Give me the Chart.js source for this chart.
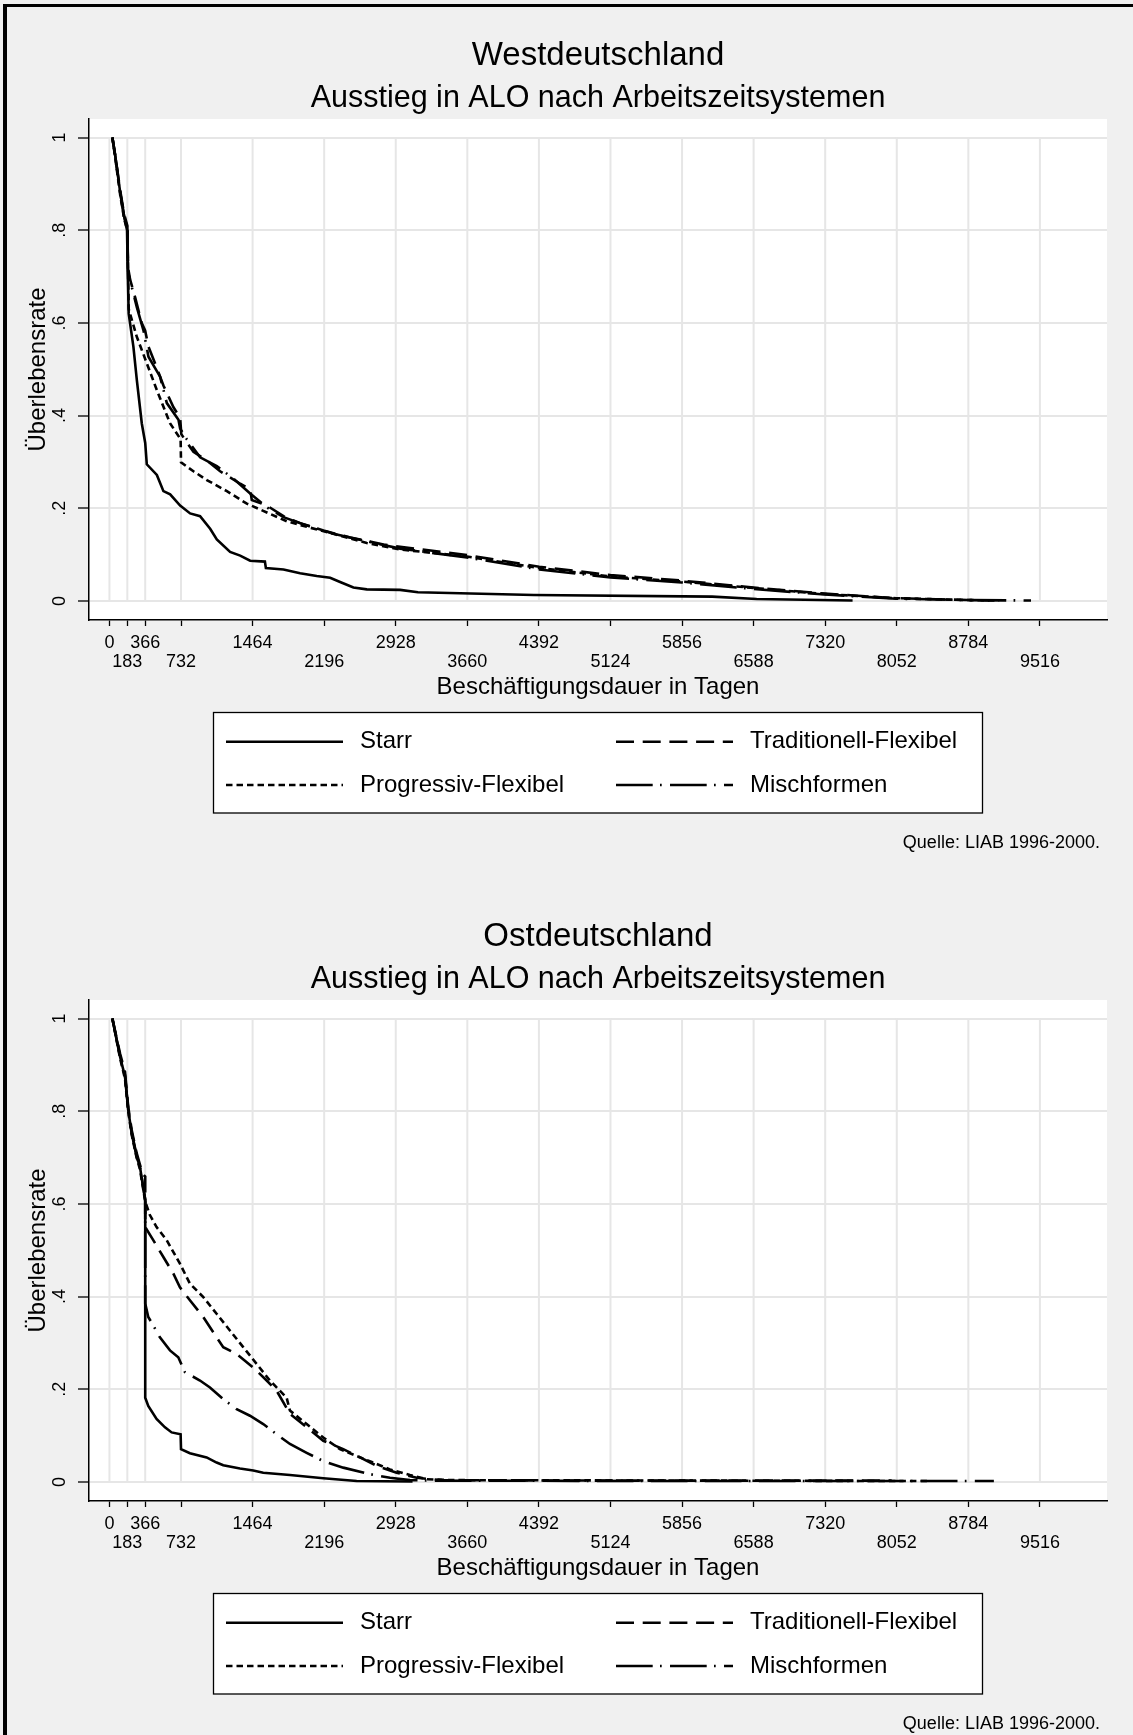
<!DOCTYPE html>
<html><head><meta charset="utf-8">
<script src="https://cdn.jsdelivr.net/npm/chart.js@4.4.1/dist/chart.umd.min.js"></script>
<style>
html,body{margin:0;padding:0;background:#f0f0f0;width:1133px;height:1735px;overflow:hidden;}
#frame{position:absolute;left:3px;top:4px;width:1130px;height:1731px;border-left:4px solid #000;border-top:3px solid #000;box-sizing:border-box;pointer-events:none;z-index:5}
canvas{position:absolute;left:0}
#c1{top:0}
#c2{top:881px}
</style></head><body>
<canvas id="c1" width="1133" height="881"></canvas>
<canvas id="c2" width="1133" height="881"></canvas>
<div id="frame"></div>
<script>
// ---- tick values / labels ----
const xTickValues = [0,183,366,732,1464,2196,2928,3660,4392,5124,5856,6588,7320,8052,8784,9516];
const xTickLabels = ['0','183','366','732','1464','2196','2928','3660','4392','5124','5856','6588','7320','8052','8784','9516'];
const yTickValues = [0,0.2,0.4,0.6,0.8,1];
const yTickLabels = ['0','.2','.4','.6','.8','1'];

const seriesNames = ['Starr','Traditionell-Flexibel','Progressiv-Flexibel','Mischformen'];

// ---- Westdeutschland: [Tage, Überlebensrate] ----
const westStarr = [[30,1],[60,0.96],[111,0.88],[150,0.83],[180,0.80],[187,0.714],[197,0.62],[245,0.549],[280,0.477],[331,0.383],[366,0.341],[382,0.295],[485,0.272],[552,0.237],[621,0.230],[723,0.206],[825,0.189],[927,0.183],[1030,0.156],[1098,0.133],[1234,0.106],[1337,0.098],[1439,0.087],[1590,0.085],[1600,0.071],[1780,0.068],[1950,0.060],[2120,0.054],[2257,0.050],[2359,0.041],[2495,0.029],[2632,0.025],[2973,0.024],[3155,0.019],[4340,0.013],[6164,0.0094],[6619,0.0043],[7600,0.001]];
const westTrad = [[30,1],[60,0.96],[111,0.885],[150,0.835],[183,0.81],[190,0.72],[212,0.693],[263,0.655],[330,0.60],[365,0.584],[399,0.549],[485,0.503],[552,0.465],[655,0.418],[723,0.395],[735,0.36],[757,0.353],[859,0.322],[996,0.303],[1132,0.28],[1337,0.253],[1439,0.241],[1456,0.218],[1610,0.206],[1780,0.183],[1950,0.168],[2189,0.152],[2462,0.137],[2803,0.122],[2973,0.117],[3656,0.099],[4395,0.074],[5124,0.056],[5853,0.044],[6587,0.029],[7316,0.016],[8046,0.006],[8775,0.0022],[9000,0.001]];
const westProg = [[30,1],[60,0.955],[111,0.875],[150,0.825],[183,0.80],[197,0.63],[280,0.57],[382,0.513],[485,0.455],[621,0.383],[728,0.349],[732,0.299],[859,0.280],[996,0.261],[1201,0.237],[1405,0.210],[1610,0.191],[1814,0.172],[2019,0.160],[2291,0.145],[2632,0.125],[2973,0.111],[3656,0.096],[4395,0.071],[5124,0.053],[5853,0.042],[6587,0.028],[7316,0.015],[8046,0.006],[8775,0.002],[9100,0.001]];
const westMisch = [[30,1],[60,0.96],[111,0.88],[150,0.83],[183,0.805],[190,0.71],[280,0.634],[348,0.584],[399,0.527],[518,0.484],[587,0.427],[706,0.391],[723,0.372],[791,0.349],[927,0.31],[1098,0.291],[1268,0.264],[1439,0.232],[1610,0.202],[1780,0.181],[1950,0.168],[2291,0.145],[2632,0.129],[2973,0.113],[3656,0.094],[4395,0.068],[5124,0.051],[5853,0.040],[6587,0.026],[7316,0.014],[8046,0.005],[8775,0.002],[9425,0.001]];

// ---- Ostdeutschland: [Tage, Überlebensrate] ----
const eastStarr = [[30,1],[108,0.918],[159,0.875],[192,0.803],[227,0.753],[278,0.702],[312,0.68],[366,0.608],[366,0.182],[397,0.164],[482,0.136],[568,0.118],[636,0.107],[728,0.103],[732,0.071],[823,0.062],[994,0.053],[1096,0.042],[1164,0.036],[1335,0.029],[1471,0.025],[1573,0.020],[1846,0.015],[2187,0.008],[2528,0.002],[3100,0.001]];
const eastTrad = [[30,1],[108,0.925],[159,0.885],[192,0.81],[227,0.76],[278,0.71],[312,0.685],[340,0.665],[366,0.659],[366,0.55],[448,0.522],[550,0.486],[653,0.45],[721,0.42],[823,0.392],[960,0.356],[1096,0.312],[1164,0.291],[1301,0.276],[1471,0.247],[1608,0.219],[1710,0.197],[1846,0.147],[2017,0.118],[2187,0.089],[2391,0.071],[2562,0.053],[2733,0.035],[2937,0.020],[3142,0.009],[3400,0.004],[5000,0.003],[8000,0.003]];
const eastProg = [[30,1],[108,0.915],[159,0.87],[192,0.80],[227,0.75],[278,0.70],[312,0.675],[366,0.605],[414,0.576],[482,0.55],[585,0.522],[721,0.471],[823,0.428],[960,0.399],[1096,0.363],[1232,0.327],[1368,0.291],[1505,0.255],[1641,0.219],[1812,0.182],[1846,0.154],[2017,0.125],[2187,0.096],[2357,0.071],[2528,0.056],[2698,0.042],[2869,0.027],[3073,0.015],[3244,0.006],[3500,0.004],[6000,0.003],[8400,0.002]];
const eastMisch = [[30,1],[108,0.92],[159,0.878],[192,0.805],[227,0.755],[278,0.705],[312,0.68],[366,0.61],[366,0.385],[397,0.356],[448,0.338],[516,0.312],[619,0.284],[704,0.269],[772,0.237],[926,0.219],[1028,0.204],[1164,0.179],[1301,0.157],[1437,0.143],[1573,0.125],[1710,0.103],[1846,0.082],[2017,0.063],[2187,0.045],[2391,0.031],[2664,0.017],[2869,0.009],[3073,0.004],[3300,0.003],[6000,0.002],[9045,0.002]];

// ---- styling ----
const FONT = '"Liberation Sans", Arial, Helvetica, sans-serif';
Chart.defaults.font.family = FONT;
Chart.defaults.color = '#000';
const GRID = '#e6e6e6';
const dashes = [[], [18, 8.7], [6.5, 4], [36.7, 7.3, 1.7, 8.3]];

function mkDataset(i, pts){
  return { label: seriesNames[i], data: pts.map(p => ({x: p[0], y: p[1]})),
    borderColor: '#000', borderWidth: 2.6, borderDash: dashes[i], pointRadius: 0,
    pointHoverRadius: 0, fill: false, tension: 0, borderCapStyle: 'butt', borderJoinStyle: 'miter' };
}

const plotBg = { id: 'plotBg', beforeDraw(chart){
  const {ctx, chartArea: a} = chart; ctx.save(); ctx.fillStyle = '#fff';
  ctx.fillRect(a.left, a.top, a.right - a.left, a.bottom - a.top); ctx.restore(); } };

const vGrid = { id: 'vGrid', beforeDatasetsDraw(chart){
  const {ctx, scales: {x, y}} = chart; ctx.save(); ctx.strokeStyle = GRID; ctx.lineWidth = 2;
  const yt = y.getPixelForValue(1), yb = y.getPixelForValue(0);
  x.ticks.forEach(t => { const px = x.getPixelForValue(t.value); ctx.beginPath(); ctx.moveTo(px, yt); ctx.lineTo(px, yb); ctx.stroke(); });
  ctx.restore(); } };

const boxLegend = { id: 'boxLegend', afterDraw(chart){
  const ctx = chart.ctx; ctx.save();
  const bx = 213.5, by = 712.5, bw = 769, bh = 100.5;
  ctx.fillStyle = '#fff'; ctx.fillRect(bx, by, bw, bh);
  ctx.strokeStyle = '#000'; ctx.lineWidth = 1.3; ctx.strokeRect(bx, by, bw, bh);
  const rows = [741.7, 785];
  const cols = [[226, 343, 360], [616, 733, 750]];
  chart.data.datasets.forEach((ds, i) => {
    const c = cols[i % 2], y = rows[Math.floor(i / 2)];
    ctx.setLineDash(ds.borderDash); ctx.lineWidth = ds.borderWidth; ctx.strokeStyle = '#000';
    ctx.beginPath(); ctx.moveTo(c[0], y); ctx.lineTo(c[1], y); ctx.stroke();
    ctx.setLineDash([]);
    ctx.fillStyle = '#000'; ctx.font = '24px ' + FONT; ctx.textBaseline = 'middle'; ctx.textAlign = 'left';
    ctx.fillText(ds.label, c[2], y);
  });
  ctx.font = '18px ' + FONT; ctx.textAlign = 'right'; ctx.textBaseline = 'middle';
  ctx.fillText('Quelle: LIAB 1996-2000.', 1100, 842.7);
  ctx.restore(); } };

function makeChart(id, title, series){
  return new Chart(document.getElementById(id), {
    type: 'line',
    data: { datasets: series.map((s, i) => mkDataset(i, s)) },
    plugins: [plotBg, vGrid, boxLegend],
    options: {
      responsive: false, animation: false, devicePixelRatio: 1,
      layout: { padding: { left: 0, right: 26, top: 0, bottom: 161 } },
      plugins: {
        legend: { display: false }, tooltip: { enabled: false },
        title: { display: true, fullSize: false, text: title, color: '#000', font: { size: 33, weight: 'normal', lineHeight: 1.2 }, padding: { top: 36.5, bottom: 0 } },
        subtitle: { display: true, fullSize: false, text: 'Ausstieg in ALO nach Arbeitszeitsystemen', color: '#000', font: { size: 30.5, weight: 'normal', lineHeight: 1.2 }, padding: { top: 4.3, bottom: 2 } }
      },
      scales: {
        x: {
          type: 'linear', min: -209, max: 10202,
          afterBuildTicks: s => { s.ticks = xTickValues.map(v => ({ value: v })); },
          afterFit: s => { s.height = 100; },
          ticks: { autoSkip: false, maxRotation: 0, minRotation: 0, padding: 8, color: '#000',
            font: { size: 18, lineHeight: 1.04 },
            callback: (v, i) => (i % 2 === 0 ? [xTickLabels[i], ''] : ['', xTickLabels[i]]) },
          grid: { drawOnChartArea: false, drawTicks: true, tickLength: 6, tickColor: '#000', tickWidth: 1.3 },
          border: { display: true, color: '#000', width: 1.5 },
          title: { display: true, text: 'Beschäftigungsdauer in Tagen', color: '#000', font: { size: 24, lineHeight: 1.2 }, padding: { top: 0, bottom: 18.6 } }
        },
        y: {
          type: 'linear', min: -0.041, max: 1.04,
          afterBuildTicks: s => { s.ticks = yTickValues.map(v => ({ value: v })); },
          afterFit: s => { s.width = 89; },
          ticks: { minRotation: 90, maxRotation: 90, crossAlign: 'center', padding: 10.5, color: '#000',
            font: { size: 18 }, callback: (v, i) => yTickLabels[i] },
          grid: { color: GRID, lineWidth: 2, drawTicks: true, tickLength: 11, tickColor: '#000', tickWidth: 1.3 },
          border: { display: true, color: '#000', width: 1.5 },
          title: { display: true, text: 'Überlebensrate', color: '#000', font: { size: 24, lineHeight: 1.2 }, padding: { top: 23.5, bottom: 0 } }
        }
      }
    }
  });
}

makeChart('c1', 'Westdeutschland', [westStarr, westTrad, westProg, westMisch]);
makeChart('c2', 'Ostdeutschland', [eastStarr, eastTrad, eastProg, eastMisch]);
</script></body></html>
